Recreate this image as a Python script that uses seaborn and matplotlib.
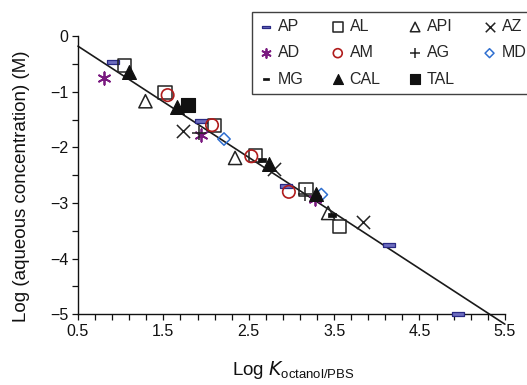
import numpy as np
import pandas as pd
import matplotlib
matplotlib.use("Agg")
import matplotlib.pyplot as plt
import seaborn as sns
from matplotlib.ticker import MultipleLocator, FixedLocator

sns.set_theme(style="white")
plt.rcParams['font.family'] = ['Liberation Sans', 'DejaVu Sans']

# ---- data ----
ap_x = [0.91, 1.94, 2.94, 4.14, 4.95]
ap_y = [-0.47, -1.52, -2.70, -3.75, -5.00]
al_x = [1.04, 1.52, 2.10, 2.58, 3.17, 3.56]
al_y = [-0.52, -1.01, -1.60, -2.14, -2.76, -3.42]
api_x = [1.29, 2.34, 3.43]
api_y = [-1.17, -2.19, -3.18]
az_x = [1.73, 2.79, 3.84]
az_y = [-1.70, -2.38, -3.34]
ad_x = [0.80, 1.94, 3.28]
ad_y = [-0.75, -1.77, -2.92]
am_x = [1.55, 2.07, 2.53, 2.97]
am_y = [-1.06, -1.60, -2.16, -2.80]
ag_x = [1.92, 3.16]
ag_y = [-1.75, -2.83]
md_x = [2.21, 3.35]
md_y = [-1.85, -2.85]
mg_x = [2.66, 3.47]
mg_y = [-2.23, -3.21]
cal_x = [1.10, 1.66, 2.74, 3.29]
cal_y = [-0.65, -1.27, -2.29, -2.83]
tal_x = [1.79]
tal_y = [-1.24]

fit_slope = -1.0
fit_intercept = 0.32
x_range = [0.5, 5.5]

xtick_values = [0.5, 1.5, 2.5, 3.5, 4.5, 5.5]
xtick_labels = ["0.5", "1.5", "2.5", "3.5", "4.5", "5.5"]

# ---- figure ----
fig = plt.figure(figsize=(5.27, 3.85), dpi=100)
ax = fig.add_axes([0.148, 0.184, 0.81, 0.722])

# regression line
fx = np.array(x_range)
fy = fit_intercept + fit_slope * fx
sns.lineplot(x=fx, y=fy, ax=ax, color="#1a1a1a", linewidth=1.2, clip_on=False,
             legend=False, zorder=1)

ap_marker = [(-1, -0.28), (1, -0.28), (1, 0.28), (-1, 0.28), (-1, -0.28)]
mg_marker = [(-1, -0.5), (1, -0.5), (1, 0.5), (-1, 0.5), (-1, -0.5)]
star6 = (6, 2, 0)

series = [
    ("AP", ap_x, ap_y, dict(marker=ap_marker, s=80, facecolor="#6e6ec0", edgecolor="#2a2a85", linewidth=0.9)),
    ("AL", al_x, al_y, dict(marker="s", s=90, facecolor="none", edgecolor="#222222", linewidth=1.1)),
    ("API", api_x, api_y, dict(marker="^", s=90, facecolor="none", edgecolor="#222222", linewidth=1.1)),
    ("AZ", az_x, az_y, dict(marker="x", s=90, color="#222222", linewidth=1.1)),
    ("AD", ad_x, ad_y, dict(marker=star6, s=80, color="#7a1a80", linewidth=1.3)),
    ("AM", am_x, am_y, dict(marker="o", s=80, facecolor="none", edgecolor="#b01c1c", linewidth=1.2)),
    ("AG", ag_x, ag_y, dict(marker="+", s=90, color="#222222", linewidth=1.1)),
    ("MD", md_x, md_y, dict(marker="D", s=40, facecolor="none", edgecolor="#2f6fd0", linewidth=1.1)),
    ("MG", mg_x, mg_y, dict(marker=mg_marker, s=30, facecolor="#111111", edgecolor="#111111", linewidth=0.5)),
    ("CAL", cal_x, cal_y, dict(marker="^", s=100, facecolor="#111111", edgecolor="#111111", linewidth=0.8)),
    ("TAL", tal_x, tal_y, dict(marker="s", s=100, facecolor="#111111", edgecolor="#111111", linewidth=0.8)),
]

for name, xs, ys, kw in series:
    sns.scatterplot(x=xs, y=ys, ax=ax, label=name, zorder=3, clip_on=False, **kw)

ax.set_xlim(0.5, 5.5)
ax.set_ylim(-5, 0)

ax.xaxis.set_major_locator(FixedLocator(xtick_values))
ax.set_xticklabels(xtick_labels)
ax.xaxis.set_minor_locator(FixedLocator(np.arange(0.5, 5.51, 0.2)))
ax.yaxis.set_major_locator(MultipleLocator(1))
ax.yaxis.set_minor_locator(MultipleLocator(0.5))

ax.tick_params(axis="both", which="both", direction="out", color="#111111",
               width=0.9, labelsize=11.5, labelcolor="#111111", pad=3)
ax.tick_params(axis="both", which="both", length=4, bottom=True, left=True)

for side in ["top", "right"]:
    ax.spines[side].set_visible(False)
for side in ["left", "bottom"]:
    ax.spines[side].set_color("#111111")
    ax.spines[side].set_linewidth(1.0)

ax.set_xlabel(r"Log $K_{\mathregular{octanol/PBS}}$", fontsize=13.5, color="#111111")
ax.xaxis.label.set_math_fontfamily("dejavusans")
ax.xaxis.set_label_coords(0.505, -0.16)
ax.set_ylabel("Log (aqueous concentration) (M)", fontsize=13.5, color="#111111")
ax.yaxis.set_label_coords(-0.112, 0.46)

if ax.get_legend():
    ax.get_legend().remove()
h, l = ax.get_legend_handles_labels()
hd = dict(zip(l, h))
order = ["AP", "AD", "MG", "AL", "AM", "CAL", "API", "AG", "TAL", "AZ", "MD"]
leg = fig.legend([hd[k] for k in order], order, ncol=4, loc="upper left",
                 bbox_to_anchor=(252 / 527, 1 - 12 / 385),
                 fontsize=11.5, frameon=True, fancybox=False, edgecolor="#111111",
                 handletextpad=0.35, columnspacing=1.75, handlelength=0.8,
                 markerscale=0.72, borderpad=0.45, borderaxespad=0.0,
                 labelspacing=0.7)
leg.get_frame().set_linewidth(1.0)

fig.savefig("out.png", dpi=100)
